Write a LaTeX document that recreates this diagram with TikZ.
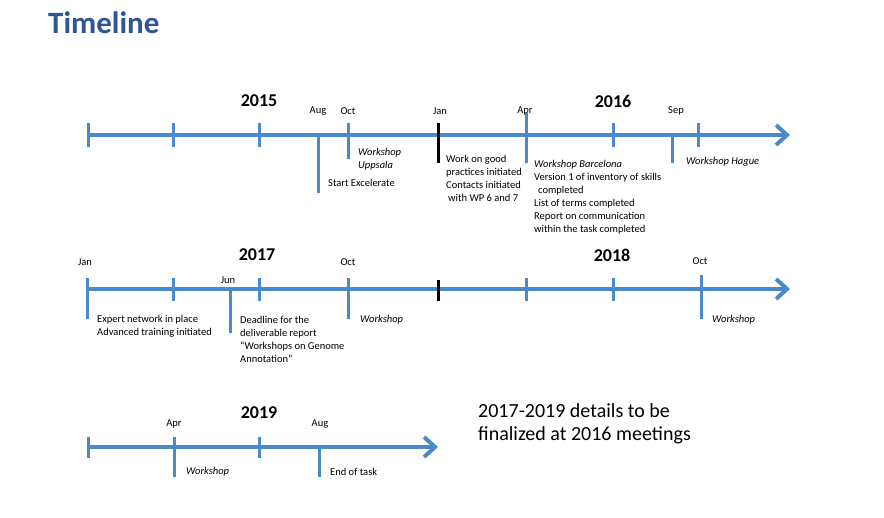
\documentclass[tikz,border=0pt]{standalone}
\usepackage{fontspec}
\setmainfont{Carlito}
\usetikzlibrary{arrows.meta}
\definecolor{lineblue}{RGB}{74,137,204}
\definecolor{titleblue}{RGB}{47,85,151}

\begin{document}
\begin{tikzpicture}[x=1pt,y=-1pt,
    axis/.style={lineblue,line width=4pt,-{Straight Barb[length=11pt,width=20pt]}},
    tick/.style={lineblue,line width=3pt},
    blacktick/.style={black,line width=3pt},
    year/.style={font=\fontsize{18}{20}\selectfont\bfseries,inner sep=0pt},
    month/.style={font=\fontsize{10.5}{12}\selectfont,inner sep=0pt},
    note/.style={font=\fontsize{10.5}{13}\selectfont,inner sep=0pt,anchor=west,align=left},
    event/.style={note,font=\fontsize{10.5}{13}\selectfont\itshape}]
    \useasboundingbox (0,0) rectangle (884,518);

    \node[font=\fontsize{31}{34}\selectfont\bfseries,text=titleblue,inner sep=0pt,anchor=west] (title) at (48,23) {Timeline};

    % 2015 - 2016
    \draw[axis] (88,135) -- (790,135);
    \foreach \x in {88,173,259,613,698}
        \draw[tick] (\x,123) -- (\x,147);
    \draw[tick] (348,123) -- (348,159);
    \draw[tick] (526,113) -- (526,163);
    \draw[tick] (318,135) -- (318,193);
    \draw[tick] (672,135) -- (672,163);
    \draw[blacktick] (438,123) -- (438,163);

    \node[year] (y2015) at (259,101) {2015};
    \node[year] (y2016) at (613,101) {2016};
    \node[month] (aug15) at (318,111) {Aug};
    \node[month] (oct15) at (348,111) {Oct};
    \node[month] (jan16) at (440,111) {Jan};
    \node[month] (apr16) at (525,111) {Apr};
    \node[month] (sep16) at (676,111) {Sep};

    \node[event] (uppsala) at (358,159) {Workshop\\Uppsala};
    \node[note] (start) at (328,183) {Start Excelerate};
    \node[note] (practices) at (446,178.5) {Work on good\\practices initiated\\Contacts initiated\\\hspace{2pt}with WP 6 and 7};
    \node[note] (barcelona) at (534,197.5) {\textit{Workshop Barcelona}\\Version 1 of inventory of skills\\\hspace{4pt}completed\\List of terms completed\\Report on communication\\within the task completed};
    \node[event] (hague) at (686,162) {Workshop Hague};

    % 2017 - 2018
    \draw[axis] (87,289) -- (790,289);
    \foreach \x in {173,259,526,613}
        \draw[tick] (\x,278) -- (\x,301);
    \draw[tick] (87,278) -- (87,319);
    \draw[tick] (348,278) -- (348,319);
    \draw[tick] (701,275) -- (701,319);
    \draw[tick] (230,289) -- (230,333);
    \draw[blacktick] (438,280) -- (438,301);

    \node[year] (y2017) at (257,255) {2017};
    \node[year] (y2018) at (612,255) {2018};
    \node[month] (jan17) at (85,262) {Jan};
    \node[month] (jun17) at (228,280) {Jun};
    \node[month] (oct17) at (348,262) {Oct};
    \node[month] (oct18) at (700,261) {Oct};

    \node[note] (expert) at (97,326.5) {Expert network in place\\Advanced training initiated};
    \node[note] (deadline) at (240,339.5) {Deadline for the\\deliverable report\\“Workshops on Genome\\Annotation”};
    \node[event] (ws17) at (360,320) {Workshop};
    \node[event] (ws18) at (712,320) {Workshop};

    % 2019
    \draw[axis] (88,447) -- (438,447);
    \foreach \x in {88,259}
        \draw[tick] (\x,437) -- (\x,458);
    \draw[tick] (174,437) -- (174,477);
    \draw[tick] (319,447) -- (319,477);

    \node[year] (y2019) at (259,413) {2019};
    \node[month] (apr19) at (174,424) {Apr};
    \node[month] (aug19) at (320,424) {Aug};
    \node[event] (ws19) at (186,472) {Workshop};
    \node[note] (end) at (330,472) {End of task};

    \node[font=\fontsize{20}{23}\selectfont,inner sep=0pt,anchor=west,align=left] (later) at (478,423.5) {2017-2019 details to be\\finalized at 2016 meetings};
\end{tikzpicture}
\end{document}
